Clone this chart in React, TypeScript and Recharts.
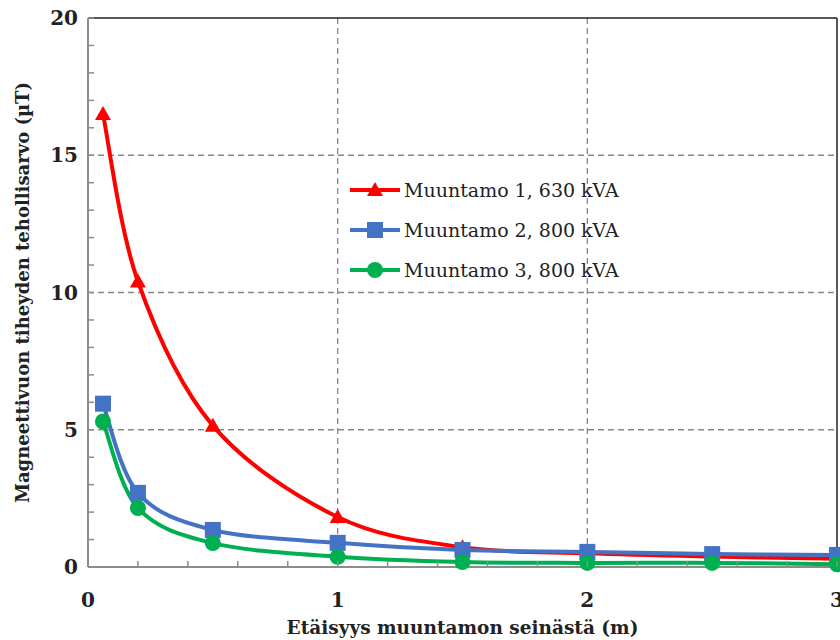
import React from "react";
import {
  LineChart,
  Line,
  XAxis,
  YAxis,
  CartesianGrid,
  Legend,
  ReferenceLine,
} from "recharts";

const distances = [0.06, 0.2, 0.5, 1, 1.5, 2, 2.5, 3];
const muuntamo1 = [16.5, 10.4, 5.15, 1.82, 0.72, 0.5, 0.38, 0.3];
const muuntamo2 = [5.95, 2.7, 1.35, 0.88, 0.62, 0.55, 0.47, 0.44];
const muuntamo3 = [5.3, 2.15, 0.87, 0.37, 0.18, 0.15, 0.15, 0.1];

const xTicks = [0, 0.2, 0.4, 0.6, 0.8, 1, 1.2, 1.4, 1.6, 1.8, 2, 2.2, 2.4, 2.6, 2.8, 3];
const xLabels = [0, 1, 2, 3];
const yTicks = [0, 1, 2, 3, 4, 5, 6, 7, 8, 9, 10, 11, 12, 13, 14, 15, 16, 17, 18, 19, 20];
const yLabels = [0, 5, 10, 15, 20];

const seriesNames = ["Muuntamo 1, 630 kVA", "Muuntamo 2, 800 kVA", "Muuntamo 3, 800 kVA"];

const data = distances.map((d, i) => ({
  d,
  m1: muuntamo1[i],
  m2: muuntamo2[i],
  m3: muuntamo3[i],
}));

const FONT = "'DejaVu Serif', 'Liberation Serif', serif";
const RED = "#ff0000";
const BLUE = "#4472c4";
const GREEN = "#00b050";
const AXIS = "#8c8c8c";

// smoothed line like a spreadsheet's "smoothed line" (Catmull-Rom style bezier)
const smoothCurve = (context: any) => {
  let pts: number[][] = [];
  return {
    areaStart() {},
    areaEnd() {},
    lineStart() {
      pts = [];
    },
    point(x: number, y: number) {
      pts.push([+x, +y]);
    },
    lineEnd() {
      if (!pts.length) return;
      context.moveTo(pts[0][0], pts[0][1]);
      for (let i = 0; i < pts.length - 1; i++) {
        const p0 = pts[i - 1] || pts[i];
        const p1 = pts[i];
        const p2 = pts[i + 1];
        const p3 = pts[i + 2] || p2;
        context.bezierCurveTo(
          p1[0] + (p2[0] - p0[0]) / 6,
          p1[1] + (p2[1] - p0[1]) / 6,
          p2[0] - (p3[0] - p1[0]) / 6,
          p2[1] - (p3[1] - p1[1]) / 6,
          p2[0],
          p2[1]
        );
      }
    },
  };
};

const Marker = ({ kind, cx, cy, color }: { kind: string; cx: number; cy: number; color: string }) => {
  if (kind === "triangle")
    return <polygon points={`${cx},${cy - 8} ${cx + 8},${cy + 6} ${cx - 8},${cy + 6}`} fill={color} />;
  if (kind === "square") return <rect x={cx - 8} y={cy - 8} width={16} height={16} fill={color} />;
  return <circle cx={cx} cy={cy} r={8} fill={color} />;
};

const makeDot = (kind: string, color: string) => (props: any) => {
  const { cx, cy, index } = props;
  if (cx == null || cy == null) return <g key={`${kind}-${index}`} />;
  return <Marker key={`${kind}-${index}`} kind={kind} cx={cx} cy={cy} color={color} />;
};

const XTick = (props: any) => {
  const { x, y, payload } = props;
  const show = xLabels.includes(Math.round(payload.value * 10) / 10);
  return (
    <g>
      <line x1={x} y1={y} x2={x} y2={y - 6} stroke={AXIS} strokeWidth={1.5} />
      {show && (
        <text x={x} y={y + 40} textAnchor="middle" fontFamily={FONT} fontWeight="bold" fontSize={20} fill="#222">
          {payload.value}
        </text>
      )}
    </g>
  );
};

const YTick = (props: any) => {
  const { x, y, payload } = props;
  const show = yLabels.includes(payload.value);
  return (
    <g>
      <line x1={x} y1={y} x2={x + 6} y2={y} stroke={AXIS} strokeWidth={1.5} />
      {show && (
        <text x={x - 10} y={y + 7} textAnchor="end" fontFamily={FONT} fontWeight="bold" fontSize={20} fill="#222">
          {payload.value}
        </text>
      )}
    </g>
  );
};

const legendItems = [
  { name: seriesNames[0], color: RED, kind: "triangle" },
  { name: seriesNames[1], color: BLUE, kind: "square" },
  { name: seriesNames[2], color: GREEN, kind: "circle" },
];

const renderLegend = () => (
  <div style={{ fontFamily: FONT, fontSize: 19, color: "#222" }}>
    {legendItems.map((it) => (
      <div key={it.name} style={{ display: "flex", alignItems: "center", height: 40 }}>
        <svg width={54} height={20} style={{ marginRight: 2 }}>
          <line x1={2} y1={10} x2={52} y2={10} stroke={it.color} strokeWidth={4} />
          <Marker kind={it.kind} cx={27} cy={10} color={it.color} />
        </svg>
        <span>{it.name}</span>
      </div>
    ))}
  </div>
);

export default function App() {
  return (
    <div style={{ position: "absolute", left: 0, top: 0, background: "#fff" }}>
      <LineChart width={840} height={640} data={data} margin={{ top: 18, right: 3, bottom: 0, left: 0 }}>
        <CartesianGrid
          stroke="#888"
          strokeWidth={1.3}
          strokeDasharray="6 4"
          horizontalValues={[5, 10, 15]}
          verticalValues={[1, 2]}
        />
        <XAxis
          dataKey="d"
          type="number"
          domain={[0, 3]}
          ticks={xTicks}
          interval={0}
          height={73}
          tickSize={0}
          tickMargin={0}
          tickLine={false}
          axisLine={{ stroke: AXIS, strokeWidth: 2 }}
          tick={<XTick />}
          label={{
            content: (p: any) => (
              <text
                x={p.viewBox.x + p.viewBox.width / 2}
                y={634}
                textAnchor="middle"
                fontFamily={FONT}
                fontWeight="bold"
                fontSize={18.5}
                fill="#222"
              >
                Etäisyys muuntamon seinästä (m)
              </text>
            ),
          }}
        />
        <YAxis
          type="number"
          domain={[0, 20]}
          ticks={yTicks}
          interval={0}
          width={88}
          tickSize={0}
          tickMargin={0}
          tickLine={false}
          axisLine={{ stroke: AXIS, strokeWidth: 2 }}
          tick={<YTick />}
          label={{
            content: (p: any) => {
              const cy = p.viewBox.y + p.viewBox.height / 2;
              return (
                <text
                  x={22}
                  y={cy}
                  transform={`rotate(-90, 22, ${cy})`}
                  textAnchor="middle"
                  dominantBaseline="central"
                  fontFamily={FONT}
                  fontWeight="bold"
                  fontSize={18}
                  fill="#222"
                >
                  Magneettivuon tiheyden tehollisarvo (µT)
                </text>
              );
            },
          }}
        />
        <ReferenceLine y={20} stroke="#222" strokeWidth={1.5} />
        <ReferenceLine x={3} stroke="#222" strokeWidth={1.5} />
        <Legend
          layout="vertical"
          align="center"
          verticalAlign="middle"
          content={renderLegend}
          wrapperStyle={{ left: 348, top: 170, width: 300 }}
        />
        <Line
          type={smoothCurve as any}
          dataKey="m1"
          name={seriesNames[0]}
          stroke={RED}
          strokeWidth={4}
          dot={makeDot("triangle", RED)}
          activeDot={false}
          isAnimationActive={false}
        />
        <Line
          type={smoothCurve as any}
          dataKey="m2"
          name={seriesNames[1]}
          stroke={BLUE}
          strokeWidth={4}
          dot={makeDot("square", BLUE)}
          activeDot={false}
          isAnimationActive={false}
        />
        <Line
          type={smoothCurve as any}
          dataKey="m3"
          name={seriesNames[2]}
          stroke={GREEN}
          strokeWidth={4}
          dot={makeDot("circle", GREEN)}
          activeDot={false}
          isAnimationActive={false}
        />
      </LineChart>
    </div>
  );
}
